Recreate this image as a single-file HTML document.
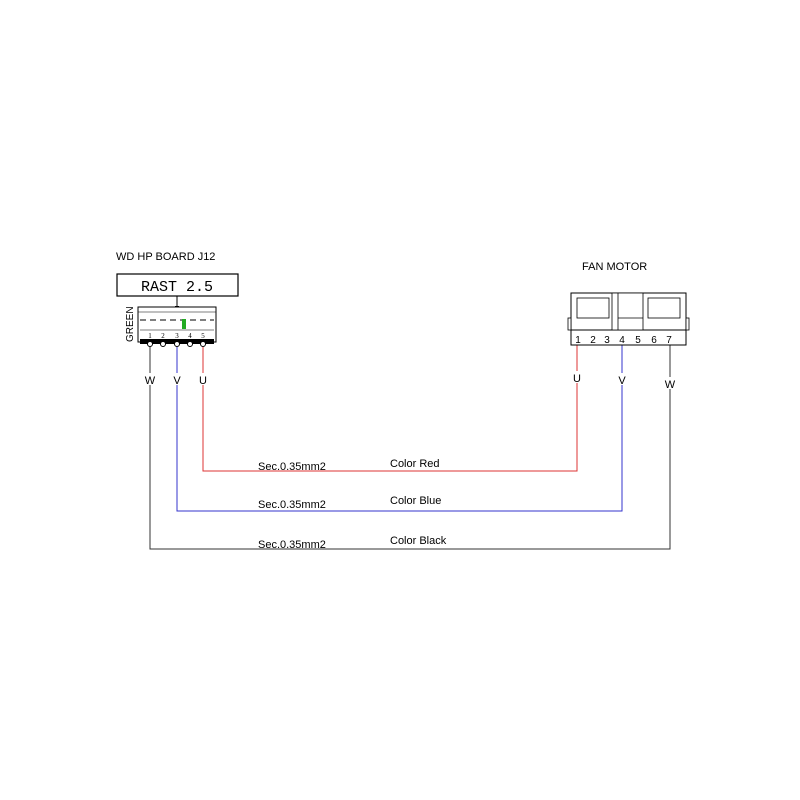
<!DOCTYPE html>
<html><head><style>body{margin:0;background:#fff}svg{display:block}text{font-family:"Liberation Sans",sans-serif}</style></head>
<body>
<svg width="800" height="800" viewBox="0 0 800 800" xmlns="http://www.w3.org/2000/svg">
<rect width="800" height="800" fill="#fff"/>
<text x="116" y="260" font-size="11">WD HP BOARD J12</text>
<rect x="117" y="274" width="121" height="22" fill="#fff" stroke="#000" stroke-width="1.2"/>
<text x="177" y="291" font-size="15" style="font-family:'Liberation Mono',monospace" text-anchor="middle" xml:space="preserve">RAST 2.5</text>
<line x1="177" y1="296" x2="177" y2="308" stroke="#000"/>
<rect x="175" y="306" width="4" height="3" fill="#000"/>
<rect x="138" y="307" width="78" height="35" fill="#fff" stroke="#000"/>
<line x1="138" y1="312" x2="216" y2="312" stroke="#000" stroke-width="0.6"/>
<line x1="140" y1="320" x2="214" y2="320" stroke="#000" stroke-width="1" stroke-dasharray="6,4"/>
<line x1="140" y1="330" x2="214" y2="330" stroke="#000" stroke-width="0.6"/>
<rect x="182" y="319" width="4" height="10" fill="#2a2"/>
<text x="133" y="342" font-size="10" transform="rotate(-90 133 342)">GREEN</text>
<g font-size="7" style="font-family:'Liberation Serif',serif" text-anchor="middle"><text x="150" y="338" style="font-family:'Liberation Serif',serif">1</text><text x="163" y="338" style="font-family:'Liberation Serif',serif">2</text><text x="177" y="338" style="font-family:'Liberation Serif',serif">3</text><text x="190" y="338" style="font-family:'Liberation Serif',serif">4</text><text x="203" y="338" style="font-family:'Liberation Serif',serif">5</text></g>
<rect x="140" y="339" width="74" height="5" fill="#000"/>
<g fill="#fff" stroke="#000"><circle cx="150" cy="344" r="2.5"/><circle cx="163" cy="344" r="2.5"/><circle cx="177" cy="344" r="2.5"/><circle cx="190" cy="344" r="2.5"/><circle cx="203" cy="344" r="2.5"/></g>
<polyline points="150,347 150,549 670,549 670,345" fill="none" stroke="#333" stroke-width="1"/>
<polyline points="177,347 177,511 622,511 622,345" fill="none" stroke="#3333cc" stroke-width="1"/>
<polyline points="203,347 203,471 577,471 577,345" fill="none" stroke="#d33" stroke-width="1"/>
<g font-size="11" text-anchor="middle" fill="#000">
<rect x="144" y="373" width="12" height="12" fill="#fff"/><text x="150" y="384">W</text>
<rect x="171" y="373" width="12" height="12" fill="#fff"/><text x="177" y="384">V</text>
<rect x="197" y="373" width="12" height="12" fill="#fff"/><text x="203" y="384">U</text>
<rect x="571" y="371" width="12" height="12" fill="#fff"/><text x="577" y="382">U</text>
<rect x="616" y="373" width="12" height="12" fill="#fff"/><text x="622" y="384">V</text>
<rect x="664" y="377" width="12" height="12" fill="#fff"/><text x="670" y="388">W</text>
</g>
<text x="582" y="270" font-size="11">FAN MOTOR</text>
<rect x="571" y="293" width="115" height="52" fill="#fff" stroke="#000"/>
<line x1="571" y1="330" x2="686" y2="330" stroke="#000"/>
<rect x="568" y="318" width="3" height="12" fill="#fff" stroke="#000" stroke-width="0.8"/>
<rect x="686" y="318" width="3" height="12" fill="#fff" stroke="#000" stroke-width="0.8"/>
<rect x="577" y="298" width="32" height="20" fill="none" stroke="#000" stroke-width="0.8"/>
<rect x="648" y="298" width="32" height="20" fill="none" stroke="#000" stroke-width="0.8"/>
<rect x="612" y="293" width="31" height="37" fill="#fff" stroke="#000" stroke-width="0.8"/>
<line x1="618" y1="318" x2="643" y2="318" stroke="#000" stroke-width="0.8"/>
<line x1="618" y1="293" x2="618" y2="330" stroke="#000" stroke-width="0.8"/>
<g font-size="10" text-anchor="middle"><text x="578" y="343">1</text><text x="593" y="343">2</text><text x="607" y="343">3</text><text x="622" y="343">4</text><text x="638" y="343">5</text><text x="654" y="343">6</text><text x="669" y="343">7</text></g>
<g font-size="11">
<text x="258" y="470">Sec.0.35mm2</text><text x="390" y="467">Color Red</text>
<text x="258" y="508">Sec.0.35mm2</text><text x="390" y="504">Color Blue</text>
<text x="258" y="548">Sec.0.35mm2</text><text x="390" y="544">Color Black</text>
</g>
</svg>
</body></html>
